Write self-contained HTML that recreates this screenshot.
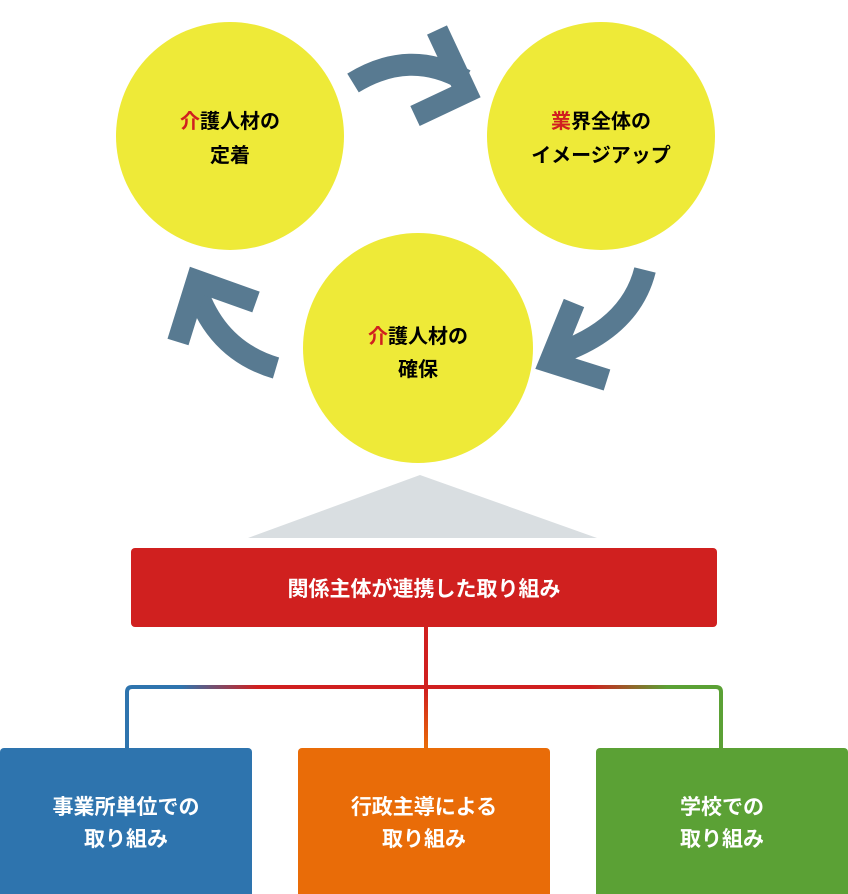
<!DOCTYPE html>
<html><head><meta charset="utf-8"><style>
html,body{margin:0;padding:0;background:#fff;width:848px;height:894px;overflow:hidden}
svg{display:block}
text{font-family:"Liberation Sans","Noto Sans CJK JP",sans-serif;font-weight:bold}
</style></head><body>
<svg width="848" height="894" viewBox="0 0 848 894" xmlns="http://www.w3.org/2000/svg">
<defs>
<linearGradient id="hg" x1="127" y1="0" x2="721" y2="0" gradientUnits="userSpaceOnUse">
<stop offset="0" stop-color="#2e74ae"/>
<stop offset="0.09" stop-color="#2e74ae"/>
<stop offset="0.22" stop-color="#d0201f"/>
<stop offset="0.78" stop-color="#d0201f"/>
<stop offset="0.91" stop-color="#5ba135"/>
<stop offset="1" stop-color="#5ba135"/>
</linearGradient>
<linearGradient id="vg" x1="0" y1="690" x2="0" y2="748" gradientUnits="userSpaceOnUse">
<stop offset="0" stop-color="#d0201f"/>
<stop offset="1" stop-color="#e96c08"/>
</linearGradient>
</defs>
<circle cx="230" cy="136" r="114" fill="#eeea38"/>
<circle cx="601" cy="136" r="114" fill="#eeea38"/>
<circle cx="418" cy="348" r="115" fill="#eeea38"/>
<g fill="none" stroke="#587a91" stroke-width="22" stroke-linejoin="miter">
<path d="M353,83 Q410,48 465,80"/>
<polyline points="437,30 466,92 415,116"/>
<path d="M645,270 Q630,330 553,355"/>
<polyline points="574,303 550,362 607,380"/>
<path d="M276,368 Q215,350 195,285"/>
<polyline points="178,342 197,281 256,302"/>
</g>
<g font-size="20" text-anchor="middle">
<text x="230" y="128"><tspan fill="#d0201f">介</tspan>護人材の</text>
<text x="230" y="162">定着</text>
<text x="601" y="128"><tspan fill="#d0201f">業</tspan>界全体の</text>
<text x="601" y="162">イメージアップ</text>
<text x="418" y="343"><tspan fill="#d0201f">介</tspan>護人材の</text>
<text x="418" y="376">確保</text>
</g>
<polygon points="248,538 420,475 597,538" fill="#d9dee1"/>
<rect x="131" y="548" width="586" height="79" rx="4" fill="#d0201f"/>
<text x="424" y="596" font-size="21" fill="#fff" text-anchor="middle">関係主体が連携した取り組み</text>
<path d="M127,750 V692 Q127,687 132,687 H716 Q721,687 721,692 V750" fill="none" stroke="url(#hg)" stroke-width="4"/>
<line x1="426" y1="627" x2="426" y2="689" stroke="#d0201f" stroke-width="4"/>
<line x1="426" y1="687" x2="426" y2="750" stroke="url(#vg)" stroke-width="4"/>
<rect x="0" y="748" width="252" height="150" rx="4" fill="#2e74ae"/>
<rect x="298" y="748" width="252" height="150" rx="4" fill="#e96c08"/>
<rect x="596" y="748" width="252" height="150" rx="4" fill="#5ba135"/>
<g font-size="21" fill="#fff" text-anchor="middle">
<text x="126" y="814">事業所単位での</text>
<text x="126" y="846">取り組み</text>
<text x="424" y="814">行政主導による</text>
<text x="424" y="846">取り組み</text>
<text x="722" y="814">学校での</text>
<text x="722" y="846">取り組み</text>
</g>
</svg>
</body></html>
